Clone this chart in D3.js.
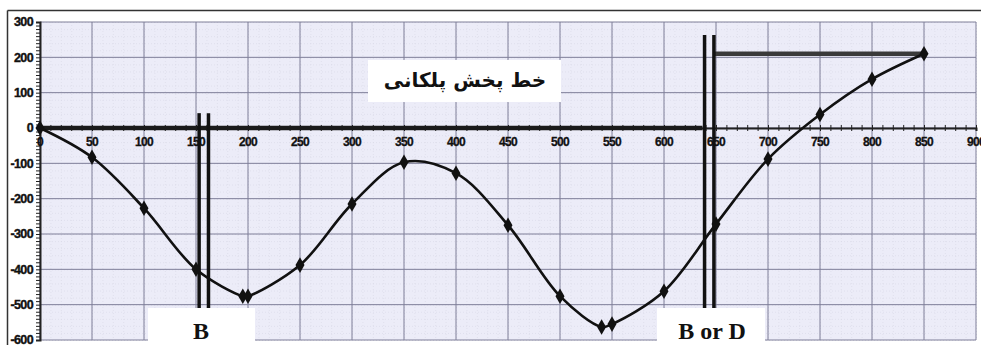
<!DOCTYPE html>
<html>
<head>
<meta charset="utf-8">
<script src="https://cdn.jsdelivr.net/npm/d3@7"></script>
<style>
html,body{margin:0;padding:0;background:#fff;}
svg{display:block;}
</style>
</head>
<body>
<svg id="chart" width="981" height="345"></svg>
<script>
// ---- data ----
const distances = [0,50,100,150,195,200,250,300,350,400,450,500,540,550,600,650,700,750,800,850];
const values    = [0,-83,-227,-400,-476,-476,-388,-215,-97,-128,-275,-476,-563,-555,-462,-272,-88,38,138,210];
const xTicks = [0,50,100,150,200,250,300,350,400,450,500,550,600,650,700,750,800,850,900];
const yTicks = [300,200,100,0,-100,-200,-300,-400,-500,-600];
const titleText = "خط پخش پلکانی";
const label1 = "B";
const label2 = "B or D";
// stepped-line segments (data units)
const baseLineEnd = 637;
const topLineStart = 648;
const topLineValue = 210;
const barsB = [153, 162];
const barsBD = [639, 648];

const svg = d3.select("#chart");
const x = d3.scaleLinear().domain([0,900]).range([40,976]);
const y = d3.scaleLinear().domain([-600,300]).range([340,22]);

// outer frame
svg.append("line").attr("x1",7.5).attr("x2",981).attr("y1",10.5).attr("y2",10.5).attr("stroke","#333").attr("stroke-width",1.5);
svg.append("line").attr("x1",7.5).attr("x2",7.5).attr("y1",10.5).attr("y2",345).attr("stroke","#333").attr("stroke-width",1.5);

// plot background
svg.append("rect").attr("x",x(0)).attr("y",y(300)).attr("width",x(900)-x(0)).attr("height",y(-600)-y(300)).attr("fill","#ececf8");

// minor grid
const g = svg.append("g");
g.selectAll(".mx").data(d3.range(0,901,10)).join("line")
  .attr("x1",d=>x(d)+0.5).attr("x2",d=>x(d)+0.5).attr("y1",y(300)).attr("y2",y(-600))
  .attr("stroke","#d6d6e6").attr("stroke-width",0.6).attr("stroke-dasharray","1,2");
g.selectAll(".my").data(d3.range(-600,301,20)).join("line")
  .attr("x1",x(0)).attr("x2",x(900)).attr("y1",d=>y(d)+0.5).attr("y2",d=>y(d)+0.5)
  .attr("stroke","#d6d6e6").attr("stroke-width",0.6).attr("stroke-dasharray","1,2");
// major grid
g.selectAll(".Mx").data(xTicks).join("line")
  .attr("x1",d=>x(d)).attr("x2",d=>x(d)).attr("y1",y(300)).attr("y2",y(-600))
  .attr("stroke","#7e7e98").attr("stroke-width",1);
g.selectAll(".My").data(yTicks).join("line")
  .attr("x1",x(0)).attr("x2",x(900)).attr("y1",d=>y(d)).attr("y2",d=>y(d))
  .attr("stroke","#7e7e98").attr("stroke-width",1);

// y axis
const yAxis = d3.axisLeft(y).tickValues(d3.range(-600,301,10)).tickSize(4).tickFormat("");
const ya = svg.append("g").attr("transform",`translate(${x(0)},0)`).call(yAxis);
ya.select(".domain").attr("stroke","#222").attr("stroke-width",2);
ya.selectAll(".tick line").attr("stroke","#222").attr("stroke-width",1);
svg.append("g").selectAll("text").data(yTicks).join("text")
  .attr("x",33).attr("y",d=>y(d)).attr("dy","0.35em").attr("text-anchor","end")
  .attr("font-family","Liberation Sans, Arial, sans-serif").attr("font-weight","bold")
  .attr("font-size",12.5).attr("fill","#111").attr("letter-spacing","-0.6")
  .attr("stroke","#111").attr("stroke-width",0.4)
  .text(d=>d);

// x axis
const xAxis = d3.axisBottom(x).tickValues(d3.range(0,901,10)).tickSize(3).tickFormat("");
const xa = svg.append("g").attr("transform",`translate(0,${y(0)})`).call(xAxis);
xa.select(".domain").attr("stroke","#222").attr("stroke-width",2);
xa.selectAll(".tick line").attr("stroke","#222").attr("stroke-width",1).attr("y1",-3);
svg.append("g").selectAll("text").data(xTicks).join("text")
  .attr("x",d=>x(d)).attr("y",y(0)+18).attr("text-anchor","middle")
  .attr("font-family","Liberation Sans, Arial, sans-serif").attr("font-weight","bold")
  .attr("font-size",12).attr("fill","#111").attr("letter-spacing","-0.6")
  .attr("stroke","#111").attr("stroke-width",0.3)
  .text(d=>d);

// stepped line
svg.append("line").attr("x1",x(0)).attr("x2",x(baseLineEnd)).attr("y1",y(0)).attr("y2",y(0))
  .attr("stroke","#1a1a1a").attr("stroke-width",4.5);
svg.append("line").attr("x1",x(topLineStart)).attr("x2",x(850)).attr("y1",y(topLineValue)).attr("y2",y(topLineValue))
  .attr("stroke","#3a3a3a").attr("stroke-width",4.5);

// vertical double bars
barsB.forEach(v=>{
  svg.append("line").attr("x1",x(v)).attr("x2",x(v)).attr("y1",y(42)).attr("y2",y(-510))
    .attr("stroke","#111").attr("stroke-width",3.5);
});
barsBD.forEach(v=>{
  svg.append("line").attr("x1",x(v)).attr("x2",x(v)).attr("y1",y(263)).attr("y2",y(-510))
    .attr("stroke","#111").attr("stroke-width",3.5);
});

// curve
const pts = distances.map((d,i)=>[d,values[i]]);
const line = d3.line().x(d=>x(d[0])).y(d=>y(d[1])).curve(d3.curveCatmullRom.alpha(0.5));
svg.append("path").datum(pts).attr("d",line).attr("fill","none").attr("stroke","#111").attr("stroke-width",2.6);
svg.append("g").selectAll("path").data(pts).join("path")
  .attr("transform",d=>`translate(${x(d[0])},${y(d[1])})`)
  .attr("d",d3.symbol(d3.symbolDiamond,70))
  .attr("fill","#111");

// title box
svg.append("rect").attr("x",368).attr("y",60).attr("width",193).attr("height",42).attr("fill","#fff");
svg.append("text").attr("x",465).attr("y",80).attr("dy","0.35em").attr("text-anchor","middle")
  .attr("font-family","DejaVu Sans, sans-serif").attr("font-weight","bold").attr("font-size",20)
  .attr("fill","#111").attr("direction","rtl").text(titleText);

// label boxes
svg.append("rect").attr("x",148).attr("y",308).attr("width",107).attr("height",40).attr("fill","#fff");
svg.append("text").attr("x",201).attr("y",339).attr("text-anchor","middle")
  .attr("font-family","Liberation Serif, Times New Roman, serif").attr("font-weight","bold").attr("font-size",24)
  .attr("fill","#111").text(label1);
svg.append("rect").attr("x",657).attr("y",308).attr("width",108).attr("height",40).attr("fill","#fff");
svg.append("text").attr("x",712).attr("y",339).attr("text-anchor","middle")
  .attr("font-family","Liberation Serif, Times New Roman, serif").attr("font-weight","bold").attr("font-size",24)
  .attr("fill","#111").text(label2);
</script>
</body>
</html>
